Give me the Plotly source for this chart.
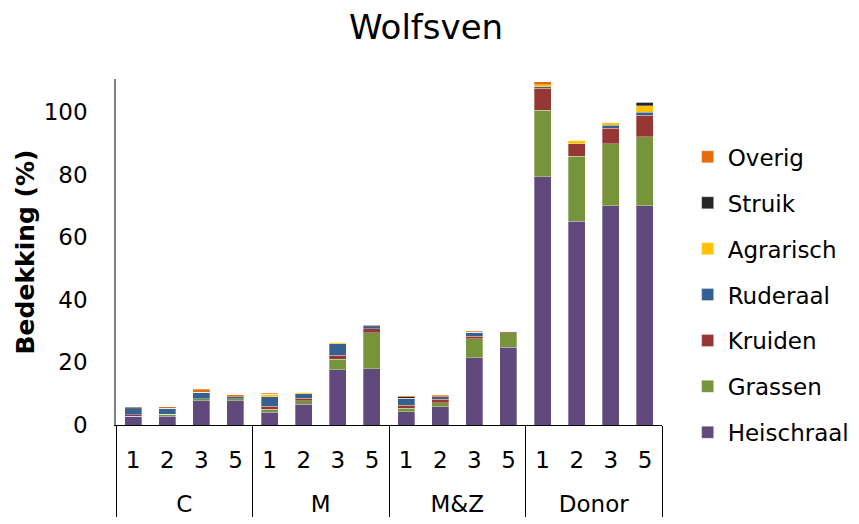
import plotly.graph_objects as go

groups = ["C"] * 4 + ["M"] * 4 + ["M&Z"] * 4 + ["Donor"] * 4
years = ["1", "2", "3", "5"] * 4

heischraal = [2.8, 2.8, 7.8, 7.8, 4.0, 6.7, 17.6, 17.9, 4.3, 5.9, 21.4, 24.9, 79.3, 65.0, 70.1, 70.1]
grassen    = [0.0, 0.7, 0.6, 0.6, 1.1, 1.1, 3.4, 11.6, 1.1, 1.2, 6.1, 4.6, 21.3, 20.9, 19.7, 22.0]
kruiden    = [0.5, 0.0, 0.0, 0.0, 0.85, 0.75, 1.2, 1.2, 0.85, 1.1, 0.85, 0.4, 7.0, 3.9, 5.0, 6.9]
ruderaal   = [1.9, 1.9, 2.0, 0.6, 3.0, 1.5, 3.8, 0.6, 2.3, 0.85, 1.2, 0.0, 0.5, 0.0, 1.0, 0.9]
agrarisch  = [0.0, 0.0, 0.1, 0.0, 0.85, 0.4, 0.4, 0.0, 0.0, 0.0, 0.0, 0.0, 0.6, 1.2, 0.9, 2.0]
struik     = [0.4, 0.0, 0.0, 0.0, 0.0, 0.0, 0.0, 0.5, 0.4, 0.0, 0.0, 0.0, 0.0, 0.0, 0.0, 1.2]
overig     = [0.3, 0.4, 0.85, 0.6, 0.4, 0.0, 0.0, 0.0, 0.4, 0.5, 0.4, 0.0, 0.9, 0.0, 0.0, 0.0]

series = [
    ("Heischraal", heischraal, "#604A7B"),
    ("Grassen", grassen, "#77933C"),
    ("Kruiden", kruiden, "#953735"),
    ("Ruderaal", ruderaal, "#376092"),
    ("Agrarisch", agrarisch, "#FFC000"),
    ("Struik", struik, "#262626"),
    ("Overig", overig, "#E46C0A"),
]

# group labels pushed one line down to match the reference's lower row
group_labels = ["<br>" + g for g in groups]

FONT = "DejaVu Sans"
fig = go.Figure()
n = len(series)
for i, (name, vals, col) in enumerate(series):
    fig.add_trace(go.Bar(
        x=[group_labels, years], y=vals, name=name, legendrank=n - i,
        legendgroup=name,
        marker=dict(color=col, line=dict(color="rgba(255,255,255,0.6)", width=0.5)),
    ))

fig.update_layout(
    barmode="stack",
    bargap=0.5,
    width=859, height=524,
    paper_bgcolor="white", plot_bgcolor="white",
    margin=dict(l=116, r=197, t=79, b=99, autoexpand=False),
    font=dict(family=FONT, size=23, color="black"),
    title=dict(text="Wolfsven", x=0.496, xanchor="center", y=0.948, yanchor="middle",
               font=dict(family=FONT, size=34, color="black")),
    legend=dict(traceorder="grouped", tracegroupgap=13,
                x=1.047, xanchor="left", y=0.376, yanchor="middle",
                font=dict(family=FONT, size=23, color="black"),
                itemwidth=30),
    showlegend=True,
)
fig.update_yaxes(range=[0, 110.5], tickvals=[0, 20, 40, 60, 80, 100],
                 showgrid=False, zeroline=False, showline=True, automargin=False,
                 linecolor="#7f7f7f", linewidth=1.5, ticks="",
                 ticklabelstandoff=22,
                 title=dict(text="<b>Bedekking (%)</b>", standoff=2,
                            font=dict(family=FONT, size=25, color="black")))
fig.update_xaxes(showgrid=False, showline=True, linecolor="black", linewidth=1,
                 automargin=False, ticklabelstandoff=14,
                 ticks="", showdividers=True, dividercolor="black", dividerwidth=1,
                 tickfont=dict(family=FONT, size=23, color="black"))

fig.write_html("out.html", config={"displayModeBar": False},
               post_script="document.body.style.margin='0';")
